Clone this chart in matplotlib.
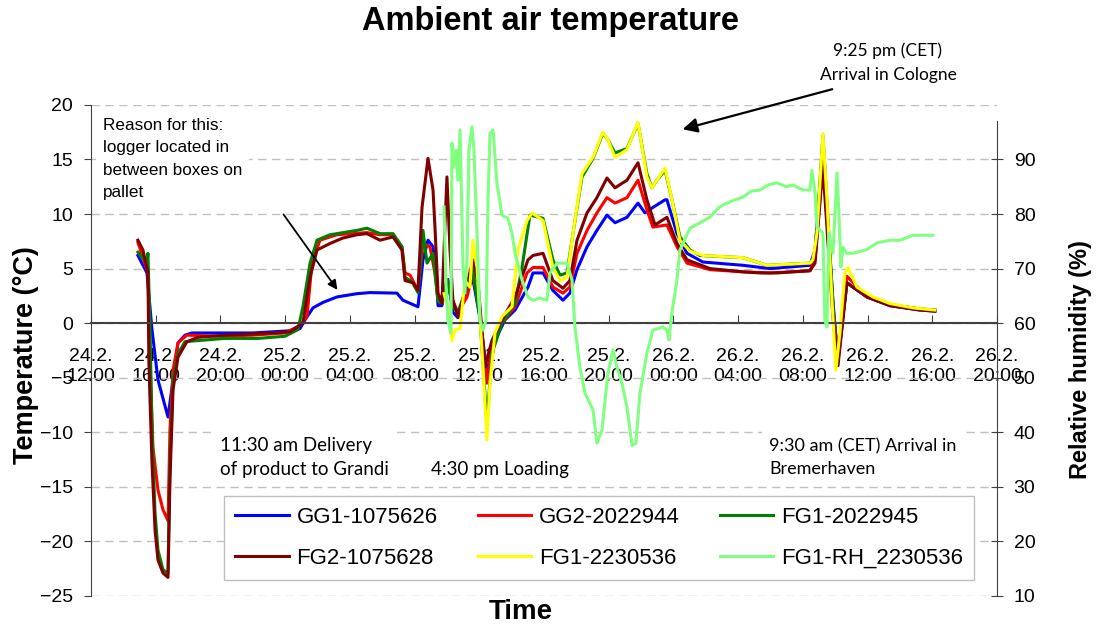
import matplotlib
matplotlib.use("Agg")
import matplotlib.pyplot as plt

plt.rcParams['font.family'] = ['Liberation Sans', 'DejaVu Sans']

# time axis: hours after 24.2. 12:00
tick_hours = list(range(0, 57, 4))
tick_labels = ['24.2.\n12:00', '24.2.\n16:00', '24.2.\n20:00', '25.2.\n00:00', '25.2.\n04:00',
               '25.2.\n08:00', '25.2.\n12:00', '25.2.\n16:00', '25.2.\n20:00', '26.2.\n00:00',
               '26.2.\n04:00', '26.2.\n08:00', '26.2.\n12:00', '26.2.\n16:00', '26.2.\n20:00']

# GG1-1075626
gg1_t = [2.90, 3.46, 3.77, 4.14, 4.76, 5.07, 5.38, 5.81, 6.24, 8.0, 10.0, 12.30, 12.92, 13.23, 13.72,
         14.34, 15.20, 16.44, 17.24, 18.91, 19.28, 20.21, 20.52, 20.83, 21.14, 21.38, 21.45, 21.69,
         21.88, 22.06, 22.37, 22.68, 23.11, 23.61, 24.04, 24.47, 24.97, 25.59, 26.21, 27.01, 27.32,
         27.94, 28.55, 29.17, 29.60, 30.04, 30.66, 31.27, 31.89, 32.39, 33.13, 33.81, 34.24, 34.73,
         35.48, 35.60, 36.22, 36.84, 37.82, 40.30, 41.97, 44.44, 44.75, 45.24, 45.86, 46.17, 46.72,
         47.96, 49.38, 51.24, 52.16]
gg1_v = [6.2, 4.6, -0.6, -5.2, -8.6, -5.2, -1.8, -1.1, -0.9, -0.9, -0.9, -0.7, -0.5, 0.3, 1.4,
         1.9, 2.4, 2.7, 2.8, 2.75, 2.1, 1.5, 5.8, 7.6, 7.0, 3.3, 1.6, 1.6,
         3.3, 4.0, 1.0, 0.5, 2.8, 4.0, 0.5, -4.5, -1.6, 0.3, 1.2, 3.3, 4.6,
         4.6, 3.0, 2.1, 2.75, 4.9, 7.0, 8.5, 9.9, 9.2, 9.7, 11.0, 10.1, 10.6,
         11.3, 11.3, 8.2, 6.4, 5.6, 5.3, 5.0, 5.3, 6.7, 16.0, 2.0, -3.5, 3.7,
         2.4, 1.6, 1.2, 1.1]

# GG2-2022944
gg2_t = [2.90, 3.52, 3.65, 3.83, 4.14, 4.45, 4.76, 4.88, 5.07, 5.38, 5.93, 8.0, 10.0, 12.0, 12.92,
         13.35, 13.66, 14.15, 15.20, 17.06, 17.86, 18.67, 19.22, 19.41, 19.72, 20.21, 20.52, 20.95,
         21.26, 21.45, 21.69, 22.0, 22.37, 22.68, 23.24, 23.61, 24.04, 24.47, 24.78, 25.40, 26.21,
         26.95, 27.32, 27.94, 28.55, 29.17, 29.60, 30.04, 30.66, 31.27, 31.89, 32.39, 33.13, 33.81,
         34.36, 34.73, 35.60, 36.22, 36.84, 38.26, 40.30, 41.97, 44.44, 44.75, 45.24, 45.86, 46.17,
         46.72, 47.96, 49.38, 51.24, 52.16]
gg2_v = [7.4, 4.6, -3.7, -11.4, -15.3, -17.1, -18.1, -9.8, -4.3, -1.8, -1.1, -1.2, -1.1, -0.9, -0.2,
         0.6, 5.5, 7.6, 8.1, 8.3, 8.1, 8.1, 7.0, 4.6, 4.4, 3.0, 7.3, 7.0,
         4.6, 2.1, 1.8, 4.0, 2.0, 1.0, 2.4, 4.6, 0.9, -5.5, -2.2, 0.0, 1.5,
         4.6, 5.1, 5.1, 3.3, 2.75, 3.3, 6.4, 8.5, 10.1, 11.5, 11.0, 11.5, 13.1,
         10.4, 8.8, 9.0, 7.0, 5.5, 4.9, 4.7, 4.6, 4.8, 5.8, 15.0, 1.5, -3.2,
         4.3, 2.4, 1.7, 1.3, 1.2]

# FG1-2022945
fg1_t = [2.90, 3.46, 3.52, 3.65, 3.77, 3.96, 4.14, 4.45, 4.76, 4.88, 5.07, 5.38, 5.81, 6.61, 8.28,
         10.32, 11.99, 12.79, 13.10, 13.54, 13.97, 14.77, 16.44, 17.06, 17.86, 18.67, 19.22, 19.41,
         19.84, 20.21, 20.52, 20.77, 21.14, 21.45, 21.69, 22.0, 22.37, 22.68, 23.11, 23.55, 24.04,
         24.47, 24.78, 25.40, 26.21, 26.64, 27.13, 27.94, 28.55, 28.99, 29.42, 29.79, 30.35, 31.03,
         31.64, 31.95, 32.39, 33.13, 33.81, 34.36, 34.67, 34.98, 35.48, 35.91, 36.40, 37.02, 37.64,
         38.88, 40.30, 41.78, 44.44, 44.75, 45.24, 45.86, 46.11, 46.72, 47.96, 49.38, 51.24, 52.16]
fg1_v = [6.5, 5.5, 6.4, -0.6, -9.8, -17.4, -20.8, -22.6, -22.9, -12.8, -5.2, -2.8, -1.7, -1.6, -1.4,
         -1.4, -1.2, -0.6, 1.5, 5.5, 7.6, 8.1, 8.5, 8.7, 8.2, 8.2, 7.0, 4.2,
         3.8, 2.8, 8.5, 5.5, 6.4, 2.0, 1.8, 4.0, 1.5, 1.0, 2.8, 5.1, 0.5,
         -9.2, -2.8, 0.0, 1.8, 5.1, 9.9, 9.6, 5.8, 4.4, 4.6, 8.2, 13.4, 15.1,
         17.4, 16.8, 15.6, 16.0, 18.3, 13.7, 12.4, 13.1, 14.0, 11.3, 7.9, 6.7, 6.2,
         6.1, 6.0, 5.3, 5.5, 6.0, 17.2, 1.8, -3.8, 3.7, 2.4, 1.7, 1.3, 1.2]

# FG2-1075628
fg2_t = [2.90, 3.21, 3.52, 3.58, 3.77, 3.96, 4.14, 4.45, 4.76, 4.88, 5.07, 5.38, 5.93, 6.61, 8.28,
         10.0, 12.3, 13.10, 13.54, 13.97, 14.77, 15.57, 16.44, 17.06, 17.86, 18.67, 19.22, 19.41,
         19.90, 20.21, 20.46, 20.83, 21.14, 21.26, 21.45, 21.69, 22.0, 22.19, 22.37, 22.68, 23.11,
         23.61, 23.92, 24.35, 24.78, 25.40, 26.21, 27.01, 27.32, 27.94, 28.55, 29.17, 29.60, 30.04,
         30.66, 31.27, 31.89, 32.39, 33.13, 33.81, 34.36, 34.86, 35.60, 36.22, 36.84, 38.26, 40.30,
         41.35, 42.40, 44.44, 44.75, 45.24, 45.86, 46.17, 46.72, 47.96, 49.38, 51.24, 52.16]
fg2_v = [7.6, 6.7, 4.6, -3.7, -12.8, -19.0, -21.7, -22.9, -23.3, -14.4, -6.1, -3.1, -1.7, -1.3, -1.1,
         -1.0, -0.8, 0.0, 4.2, 6.7, 7.3, 7.8, 8.1, 8.2, 7.6, 7.9, 6.7, 3.9,
         3.7, 3.0, 10.6, 15.1, 12.2, 8.8, 2.75, 1.8, 13.4, 6.7, 2.1, 0.6, 2.8,
         5.8, 3.7, -4.0, -1.6, 0.3, 2.4, 5.8, 6.2, 6.4, 3.9, 3.2, 3.9, 7.6,
         10.1, 11.5, 13.3, 12.4, 13.1, 14.7, 11.3, 9.0, 9.7, 7.3, 5.8, 5.0, 4.7,
         4.6, 4.6, 4.8, 5.5, 14.3, 0.5, -3.9, 3.7, 2.4, 1.6, 1.2, 1.1]

# FG1-2230536
fg3_t = [21.82, 22.06, 22.31, 22.50, 22.81, 23.11, 23.42, 23.61, 23.86, 24.04, 24.23, 24.47, 24.66,
         24.97, 25.40, 26.02, 26.39, 26.95, 27.26, 27.94, 28.55, 28.99, 29.42, 29.79, 30.35, 31.03,
         31.64, 31.95, 32.39, 33.13, 33.81, 34.36, 34.67, 35.48, 35.91, 36.40, 37.02, 37.82, 40.30,
         41.78, 44.44, 44.62, 44.87, 45.24, 45.49, 45.80, 46.04, 46.29, 46.60, 46.79, 47.34, 48.33,
         49.38, 50.80, 52.16]
fg3_v = [2.7, 1.5, -1.6, -0.6, -0.5, 3.9, 3.3, 7.6, 5.1, 0.5, -4.0, -10.7, -5.5,
         -0.9, 0.6, 1.5, 6.7, 9.4, 10.1, 9.4, 5.1, 3.9, 4.2, 8.2, 13.7, 15.2,
         17.5, 16.8, 15.2, 15.9, 18.4, 13.4, 12.4, 14.2, 11.3, 7.6, 6.6, 6.2, 6.0,
         5.3, 5.5, 5.8, 8.2, 17.4, 11.3, 2.1, -4.3, -0.9, 4.6, 5.1, 3.3, 2.4,
         1.8, 1.4, 1.2]

# FG1-RH_2230536 (relative humidity, right axis)
rh_t = [21.82, 21.94, 22.06, 22.25, 22.31, 22.43, 22.56, 22.68, 22.81, 22.93, 22.99, 23.11, 23.24,
        23.36, 23.55, 23.67, 23.86, 24.04, 24.23, 24.41, 24.54, 24.66, 24.85, 25.09, 25.40, 25.77,
        26.02, 26.21, 26.64, 27.01, 27.32, 27.75, 28.18, 28.37, 28.80, 29.42, 29.73, 29.91, 30.22,
        30.53, 31.03, 31.27, 31.58, 31.95, 32.26, 32.51, 32.82, 33.13, 33.44, 33.68, 33.93, 34.36,
        34.73, 35.35, 35.60, 35.72, 35.91, 36.22, 36.40, 37.02, 38.26, 38.8, 39.31, 39.8, 40.30,
        40.8, 41.35, 41.9, 42.40, 43.0, 43.39, 44.0, 44.44, 44.56, 44.75, 44.87, 45.24, 45.36,
        45.49, 45.61, 45.86, 46.11, 46.23, 46.35, 46.48, 46.72, 47.10, 47.96, 48.58, 49.38, 50.0,
        50.80, 51.24, 52.04]
rh_v = [81.3, 67.3, 60.5, 58.2, 93.0, 88.6, 91.7, 86.2, 95.4, 79.4, 70.3, 65.5, 71.5,
        91.7, 96.0, 91.7, 76.5, 60.5, 58.7, 60.5, 82.5, 94.8, 95.4, 85.7, 79.8, 79.2,
        76.5, 72.8, 67.9, 64.8, 64.2, 64.6, 64.2, 69.2, 71.0, 71.0, 67.9, 59.3, 51.9,
        47.2, 44.1, 38.0, 40.4, 50.8, 55.1, 51.9, 49.0, 44.6, 37.6, 38.0, 47.2, 54.5,
        58.7, 59.3, 58.7, 56.9, 62.0, 68.0, 73.4, 77.4, 79.4, 81.2, 82.0, 82.6, 83.1,
        84.2, 84.4, 85.4, 85.7, 85.0, 85.3, 84.4, 84.4, 88.0, 84.0, 77.6, 76.5, 60.5,
        59.3, 76.5, 72.8, 87.5, 80.0, 70.3, 73.9, 72.8, 72.8, 73.5, 74.7, 75.2, 75.2,
        76.1, 76.1, 76.1]

fig = plt.figure(figsize=(10.99, 6.28), dpi=100)
ax = fig.add_axes([0.0828, 0.051, 0.8244, 0.782])
ax2 = ax.twinx()

lw = 2.2
l1, = ax.plot(gg1_t, gg1_v, color='#0000FF', lw=lw, label='GG1-1075626')
l2, = ax.plot(gg2_t, gg2_v, color='#FF0000', lw=lw, label='GG2-2022944')
l3, = ax.plot(fg1_t, fg1_v, color='#008000', lw=lw, label='FG1-2022945')
l4, = ax.plot(fg2_t, fg2_v, color='#800000', lw=lw, label='FG2-1075628')
l5, = ax.plot(fg3_t, fg3_v, color='#FFFF00', lw=lw, label='FG1-2230536')
l6, = ax2.plot(rh_t, rh_v, color='#80FF80', lw=lw, label='FG1-RH_2230536')

ax.set_xlim(0, 56)
ax.set_ylim(-25, 20)
ax2.set_ylim(10, 100)

ax.set_xticks(tick_hours)
ax.set_xticklabels(tick_labels, linespacing=1.3)
ax.set_yticks(range(-25, 21, 5))
ax2.set_yticks(range(10, 91, 10))

ax.yaxis.grid(True, ls=(0, (6, 4)), color='#C0C0C0', lw=1)
ax.set_axisbelow(True)

axis_col = '#404040'
ax.spines['bottom'].set_position(('data', 0))
ax.spines['bottom'].set_color(axis_col)
ax.spines['bottom'].set_linewidth(1.5)
ax.spines['left'].set_color(axis_col)
ax.spines['top'].set_visible(False)
ax.spines['right'].set_visible(False)
for s in ['left', 'top', 'bottom']:
    ax2.spines[s].set_visible(False)
ax2.spines['right'].set_color(axis_col)
ax2.spines['right'].set_bounds(10, 97)

ax.tick_params(axis='x', direction='in', length=6, color=axis_col, labelsize=14, pad=18)
ax.tick_params(axis='y', direction='out', length=5, color=axis_col, labelsize=14, pad=8)
ax2.tick_params(axis='y', direction='inout', length=8, color=axis_col, labelsize=14, pad=8)

# titles
fig.text(0.501, 0.965, 'Ambient air temperature', ha='center', va='center',
         fontsize=23.5, fontweight='bold')
fig.text(0.024, 0.435, 'Temperature (°C)', rotation=90, ha='center', va='center',
         fontsize=19.5, fontweight='bold')
fig.text(0.983, 0.427, 'Relative humidity (%)', rotation=90, ha='center', va='center',
         fontsize=17, fontweight='bold')
fig.text(0.474, 0.025, 'Time', ha='center', va='center', fontsize=20, fontweight='bold')

# annotations
white = dict(facecolor='white', edgecolor='none', pad=5)
ax.text(0.74, 18.8, 'Reason for this:\nlogger located in\nbetween boxes on\npallet',
        ha='left', va='top', fontsize=12.3, linespacing=1.62, bbox=white, zorder=6)
ax.annotate('', xy=(15.33, 2.84), xytext=(11.80, 10.17),
            arrowprops=dict(arrowstyle='-|>', color='black', lw=1.3, mutation_scale=14), zorder=6)
ax.text(45.86, 25.0, '9:25 pm (CET)', ha='left', va='center', fontsize=12.5,
        family=['Lato', 'DejaVu Sans'])
ax.text(45.06, 22.7, 'Arrival in Cologne', ha='left', va='center', fontsize=12.5,
        family=['Lato', 'DejaVu Sans'])
ax.annotate('', xy=(36.40, 17.7), xytext=(45.98, 21.5), annotation_clip=False,
            arrowprops=dict(arrowstyle='-|>', color='black', lw=1.6, mutation_scale=22), zorder=6)
ax.text(7.97, -12.33, '11:30 am Delivery\nof product to Grandi', ha='left', va='center',
        fontsize=13.5, linespacing=1.5, family=['Lato', 'DejaVu Sans'], bbox=white, zorder=6)
ax.text(21.01, -13.4, '4:30 pm Loading', ha='left', va='center', fontsize=13.5,
        family=['Lato', 'DejaVu Sans'], bbox=white, zorder=6)
ax.text(41.9, -12.33, '9:30 am (CET) Arrival in\nBremerhaven', ha='left', va='center',
        fontsize=13, linespacing=1.55, family=['Lato', 'DejaVu Sans'], bbox=white, zorder=6)

# legend, filled row by row
handles = [l1, l4, l2, l5, l3, l6]
leg = ax2.legend(handles=handles, labels=[h.get_label() for h in handles], ncol=3,
                 loc='lower left', bbox_to_anchor=(0.147, 0.033, 0.828, 0.173), mode='expand',
                 fontsize=16, frameon=True, fancybox=False, edgecolor='#BFBFBF',
                 framealpha=1, handlelength=2.4, handletextpad=0.35, labelspacing=0.9,
                 borderpad=0.5, borderaxespad=0)
leg.get_frame().set_linewidth(1)

fig.savefig('out.png', dpi=100)
